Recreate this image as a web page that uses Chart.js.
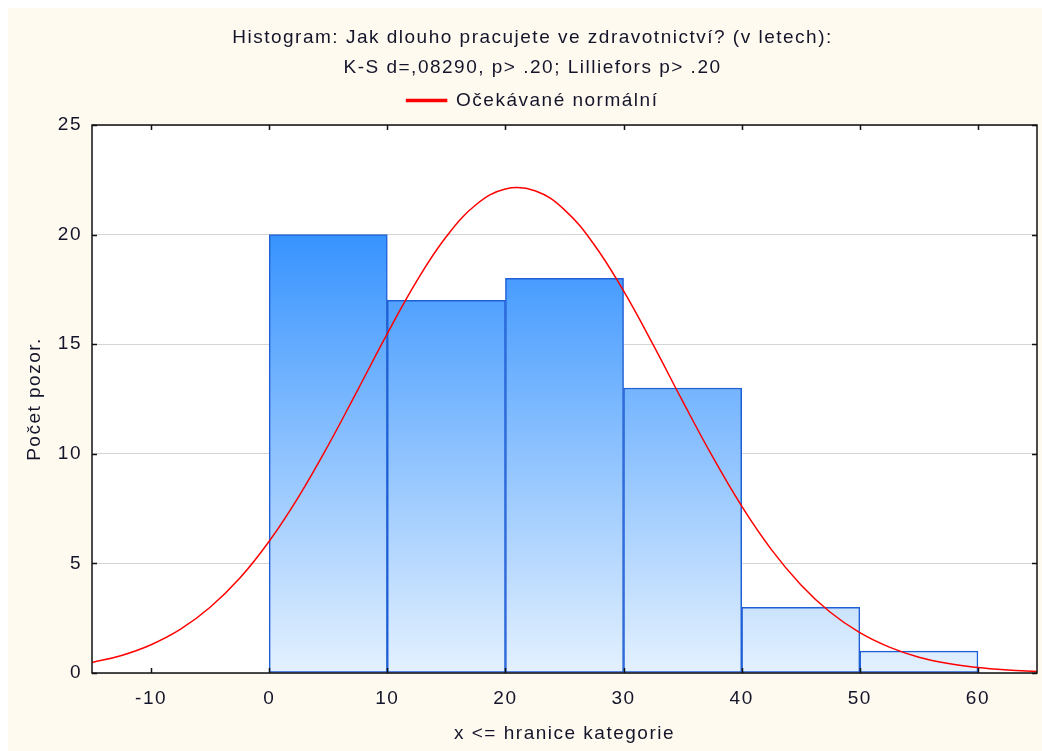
<!DOCTYPE html>
<html>
<head>
<meta charset="utf-8">
<script src="https://cdn.jsdelivr.net/npm/chart.js@4.4.1/dist/chart.umd.min.js"></script>
<style>
  html, body { margin: 0; padding: 0; background: #ffffff; }
  #wrap { width: 1042px; height: 751px; }
</style>
</head>
<body>
<div id="wrap"><canvas id="chart" width="1042" height="751"></canvas></div>
<script>
// histogram bins (upper bound x <= hranice), counts
var binCenters = [5, 15, 25, 35, 45, 55];
var binCounts = [20, 17, 18, 13, 3, 1];

// expected normal curve
var curveX = [-15, -12.5, -10, -7.5, -5, -2.5, 0, 2.5, 5, 7.5, 10, 12.5, 15, 17.5, 20, 22.5,
              25, 27.5, 30, 32.5, 35, 37.5, 40, 42.5, 45, 47.5, 50, 52.5, 55, 57.5, 60, 62.5, 65];
var curveY = [0.48, 0.80, 1.29, 2.00, 3.00, 4.32, 6.01, 8.05, 10.39, 12.92, 15.48, 17.89, 19.91, 21.36, 22.08, 22.00,
              21.13, 19.55, 17.43, 14.98, 12.40, 9.90, 7.61, 5.64, 4.03, 2.77, 1.84, 1.18, 0.72, 0.43, 0.25, 0.14, 0.07];

var xTicks = [-10, 0, 10, 20, 30, 40, 50, 60];
var yTicks = [0, 5, 10, 15, 20, 25];

var titleLines = ["Histogram: Jak dlouho pracujete ve zdravotnictví? (v letech):",
                  "K-S d=,08290, p> .20; Lilliefors p> .20"];
var curveLabel = "Očekávané normální";

var FONT = "'Liberation Sans', Arial, sans-serif";
var FS = 19;
var TXT = "#14142a";

function barGradient(context) {
    var chart = context.chart;
    var area = chart.chartArea;
    if (!area) return "#3f95fd";
    var g = chart.ctx.createLinearGradient(0, area.top, 0, area.bottom);
    g.addColorStop(0, "#0c7cff");
    g.addColorStop(1, "#e4f1fe");
    return g;
}

// the original text is spaced out; canvas state is lost on resize so set it every pass
function spacing(chart) {
    chart.ctx.letterSpacing = "1.5px";
}

var frame = {
    id: "frame",
    beforeUpdate: spacing,
    beforeLayout: spacing,
    beforeDraw: function (chart) {
        spacing(chart);
        let ctx = chart.ctx;
        let a = chart.chartArea;
        ctx.save();
        ctx.fillStyle = "#ffffff";
        ctx.fillRect(0, 0, chart.width, chart.height);
        ctx.fillStyle = "#fefaf0";
        ctx.fillRect(8, 8, chart.width - 8, chart.height - 8);
        ctx.fillStyle = "#ffffff";
        ctx.fillRect(a.left, a.top, a.right - a.left, a.bottom - a.top);
        ctx.restore();
    },
    afterDraw: function (chart) {
        let ctx = chart.ctx;
        let a = chart.chartArea;
        let xs = chart.scales.x;
        let ys = chart.scales.y;
        ctx.save();
        ctx.strokeStyle = "#111111";
        ctx.lineWidth = 1.5;
        ctx.strokeRect(a.left, a.top, a.right - a.left, a.bottom - a.top);
        ctx.beginPath();
        xTicks.forEach(function (v) {
            let px = Math.round(xs.getPixelForValue(v)) + 0.5;
            ctx.moveTo(px, a.bottom); ctx.lineTo(px, a.bottom - 5);
            ctx.moveTo(px, a.top); ctx.lineTo(px, a.top + 5);
        });
        yTicks.forEach(function (v) {
            let py = Math.round(ys.getPixelForValue(v)) + 0.5;
            ctx.moveTo(a.left, py); ctx.lineTo(a.left + 5, py);
            ctx.moveTo(a.right, py); ctx.lineTo(a.right - 5, py);
        });
        ctx.stroke();
        ctx.restore();
    }
};

var ctx = document.getElementById("chart");
var chart = new Chart(ctx, {
    data: {
        datasets: [
            {
                type: "line",
                label: curveLabel,
                data: curveX.map(function (x, i) { return { x: x, y: curveY[i] }; }),
                borderColor: "#ff0000",
                backgroundColor: "#ff0000",
                borderWidth: 1.5,
                pointRadius: 0,
                tension: 0.4,
                order: 0
            },
            {
                type: "bar",
                label: "bins",
                data: binCenters.map(function (x, i) { return { x: x, y: binCounts[i] }; }),
                backgroundColor: barGradient,
                borderColor: "#1f5fd6",
                borderWidth: 1.5,
                borderSkipped: false,
                barPercentage: 1.0,
                categoryPercentage: 1.0,
                order: 1
            }
        ]
    },
    options: {
        responsive: false,
        animation: false,
        // left padding pushes the title block a bit right, as in the original
        layout: { padding: { left: 28, right: 5, top: 0, bottom: 0 } },
        plugins: {
            tooltip: { enabled: false },
            title: {
                display: true,
                text: titleLines,
                color: TXT,
                font: { family: FONT, size: FS, weight: "normal", lineHeight: "30px" },
                padding: { top: 23, bottom: -10 }
            },
            legend: {
                display: true,
                position: "top",
                labels: {
                    filter: function (item) { return item.text === curveLabel; },
                    color: TXT,
                    font: { family: FONT, size: FS },
                    boxWidth: 40,
                    boxHeight: 2,
                    padding: 18
                }
            }
        },
        scales: {
            x: {
                type: "linear",
                min: -15,
                max: 65,
                offset: false,
                afterBuildTicks: function (scale) {
                    scale.ticks = xTicks.map(function (v) { return { value: v }; });
                },
                afterFit: function (scale) { scale.height = 78; },
                grid: { display: false, drawTicks: false },
                border: { display: false },
                ticks: { color: TXT, font: { family: FONT, size: FS }, padding: 14, maxRotation: 0 },
                title: {
                    display: true,
                    text: "x <= hranice kategorie",
                    color: TXT,
                    font: { family: FONT, size: FS },
                    padding: { top: 0, bottom: 6 }
                }
            },
            // empty top axis, only a gap between legend and plot
            xTop: {
                type: "linear",
                position: "top",
                min: -15,
                max: 65,
                afterFit: function (scale) { scale.height = 5; },
                grid: { display: false, drawTicks: false },
                border: { display: false },
                ticks: { display: false }
            },
            y: {
                type: "linear",
                min: 0,
                max: 25,
                afterBuildTicks: function (scale) {
                    scale.ticks = yTicks.map(function (v) { return { value: v }; });
                },
                afterFit: function (scale) { scale.width = 64; },
                grid: { color: "#d4d4d4", lineWidth: 1, drawTicks: false },
                border: { display: false },
                ticks: { color: TXT, font: { family: FONT, size: FS }, padding: 10 },
                title: {
                    display: true,
                    text: "Počet pozor.",
                    color: TXT,
                    font: { family: FONT, size: FS },
                    padding: { top: -5, bottom: 0 }
                }
            }
        }
    },
    plugins: [frame]
});
</script>
</body>
</html>
